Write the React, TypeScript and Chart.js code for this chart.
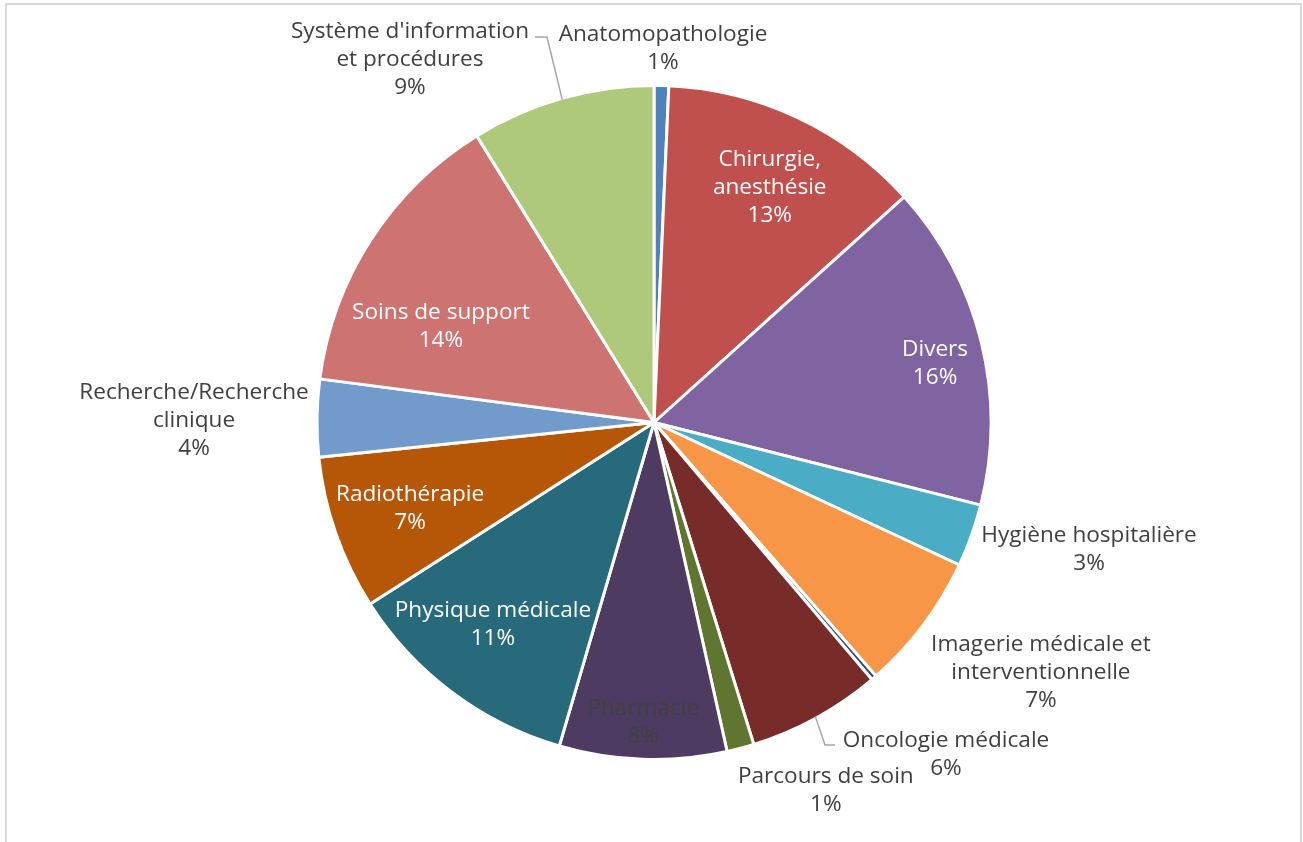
import React, { useEffect, useRef } from "react";
import { Chart, registerables } from "chart.js";

Chart.register(...registerables);

// ---- data ----
const categories = [
  "Anatomopathologie",
  "Chirurgie, anesthésie",
  "Divers",
  "Hygiène hospitalière",
  "Imagerie médicale et interventionnelle",
  "Médecine nucléaire",
  "Oncologie médicale",
  "Parcours de soin",
  "Pharmacie",
  "Physique médicale",
  "Radiothérapie",
  "Recherche/Recherche clinique",
  "Soins de support",
  "Système d'information et procédures",
];

const values = [0.7, 12.6, 15.6, 3.0, 6.6, 0.25, 6.4, 1.3, 8.0, 11.4, 7.4, 3.7, 14.1, 8.8];

const colors = [
  "#4F81BD",
  "#C0504D",
  "#8064A2",
  "#4BACC6",
  "#F79646",
  "#2C4D75",
  "#772C2A",
  "#5F7530",
  "#4D3B62",
  "#276A7C",
  "#B65708",
  "#729ACA",
  "#CD7371",
  "#AFC97A",
];

// number of words on the first label line (0 = single line)
const labelBreaks = [0, 1, 0, 0, 3, 0, 0, 0, 0, 0, 0, 1, 0, 2];
const labelShown = [true, true, true, true, true, false, true, true, true, true, true, true, true, true];

// ---- label layout (k = fraction of radius along mid-angle, then pixel offset) ----
const labelLayout = [
  { k: 1, dx: 1.6, dy: -41, color: "#404040" },
  { k: 0.788, dx: 3, dy: 2, color: "#FFFFFF" },
  { k: 0.857, dx: 2, dy: 8, color: "#FFFFFF" },
  { k: 1, dx: 119, dy: 12, color: "#404040" },
  { k: 1, dx: 118.7, dy: 47, color: "#404040" },
  { k: 1, dx: 0, dy: 0, color: "#404040" },
  { k: 1, dx: 130.6, dy: 36.4, color: "#404040" },
  { k: 1, dx: 85.7, dy: 42.3, color: "#404040" },
  { k: 0.89, dx: -1, dy: 0, color: "#404040" },
  { k: 0.764, dx: -7.3, dy: -5.5, color: "#FFFFFF" },
  { k: 0.77, dx: 0, dy: -0.6, color: "#FFFFFF" },
  { k: 1, dx: -124.5, dy: 1, color: "#404040" },
  { k: 0.691, dx: -18.3, dy: 28.3, color: "#FFFFFF" },
  { k: 1, dx: -152.3, dy: -41.8, color: "#404040" },
];

// leader lines: relative to label centre
const leaders = [
  { index: 13, elbow: [137, -21], end: [125, -21] },
  { index: 6, elbow: [-121, -8], end: [-111, -8] },
];

const FONT_SIZE = 22.6;
const LINE_H = 28;
const TEXT_SHIFT = 2;
const FONT = `${FONT_SIZE}px "Open Sans"`;
const BORDER_W = 3;

function splitLabel(name: string, n: number): string[] {
  if (!n) return [name];
  const w = name.split(" ");
  return [w.slice(0, n).join(" "), w.slice(n).join(" ")];
}

const labelPlugin = {
  id: "pieLabels",
  afterDatasetsDraw(chart: any) {
    const ctx = chart.ctx as CanvasRenderingContext2D;
    const meta = chart.getDatasetMeta(0);
    const ds = chart.data.datasets[0].data as number[];
    const total = ds.reduce((a, b) => a + b, 0);
    const centres: { x: number; y: number; ex: number; ey: number }[] = [];
    meta.data.forEach((el: any, i: number) => {
      const p = el.getProps(["x", "y", "startAngle", "endAngle", "outerRadius"], true);
      const mid = (p.startAngle + p.endAngle) / 2;
      const r = p.outerRadius - BORDER_W / 2;
      const L = labelLayout[i];
      const ex = p.x + Math.cos(mid) * r;
      const ey = p.y + Math.sin(mid) * r;
      const cx = p.x + Math.cos(mid) * r * L.k + L.dx;
      const cy = p.y + Math.sin(mid) * r * L.k + L.dy;
      centres.push({ x: cx, y: cy, ex, ey });
      if (!labelShown[i]) return;
      const lines = splitLabel(categories[i], labelBreaks[i]);
      lines.push(Math.round((ds[i] / total) * 100) + "%");
      ctx.save();
      ctx.font = FONT;
      ctx.fillStyle = L.color;
      ctx.textAlign = "center";
      ctx.textBaseline = "middle";
      const n = lines.length;
      lines.forEach((t, j) => {
        ctx.fillText(t, cx, cy + TEXT_SHIFT + (j - (n - 1) / 2) * LINE_H);
      });
      ctx.restore();
    });
    ctx.save();
    ctx.strokeStyle = "#A6A6A6";
    ctx.lineWidth = 1.5;
    leaders.forEach((ld) => {
      const c = centres[ld.index];
      ctx.beginPath();
      ctx.moveTo(c.ex, c.ey);
      ctx.lineTo(c.x + ld.elbow[0], c.y + ld.elbow[1]);
      ctx.lineTo(c.x + ld.end[0], c.y + ld.end[1]);
      ctx.stroke();
    });
    ctx.restore();
  },
};

export default function App() {
  const ref = useRef<HTMLCanvasElement | null>(null);

  useEffect(() => {
    document.body.style.margin = "0";
    document.body.style.overflow = "hidden";
    let chart: Chart | null = null;
    let cancelled = false;
    const make = () => {
      if (cancelled || !ref.current) return;
      chart = new Chart(ref.current, {
        type: "pie",
        data: {
          labels: categories,
          datasets: [
            {
              data: values,
              backgroundColor: colors,
              borderColor: "#FFFFFF",
              borderWidth: BORDER_W,
              radius: 337,
            } as any,
          ],
        },
        options: {
          responsive: false,
          animation: false,
          events: [],
          layout: { padding: { left: 5, top: 3, right: 0, bottom: 0 } },
          plugins: {
            legend: { display: false },
            tooltip: { enabled: false },
          },
        } as any,
        plugins: [labelPlugin],
      });
    };
    const fonts: any = (document as any).fonts;
    if (fonts && fonts.load) {
      fonts.load(FONT).then(make, make);
    } else {
      make();
    }
    return () => {
      cancelled = true;
      if (chart) chart.destroy();
    };
  }, []);

  return (
    <div style={{ position: "fixed", left: 0, top: 0, width: 1303, height: 842, overflow: "hidden", background: "#FFFFFF" }}>
      <div
        style={{
          position: "absolute",
          left: 5,
          top: 3,
          width: 1297,
          height: 841,
          boxSizing: "border-box",
          border: "2px solid #D9D9D9",
        }}
      />
      <canvas ref={ref} width={1303} height={842} style={{ position: "absolute", left: 0, top: 0, width: 1303, height: 842 }} />
    </div>
  );
}
